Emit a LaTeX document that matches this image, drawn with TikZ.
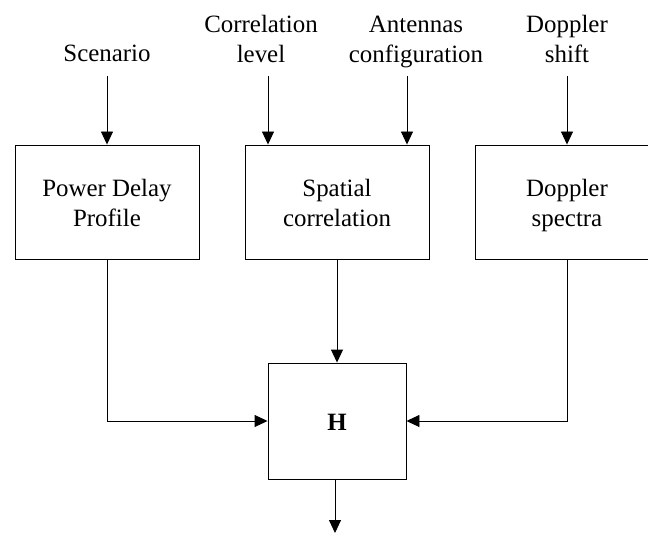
\documentclass[tikz,border=0pt]{standalone}
\usepackage{fontspec}
\setmainfont{Liberation Serif}
\usetikzlibrary{arrows.meta}
\newcommand{\ls}{\rule[-5.2bp]{0pt}{29bp}}
\begin{document}
\begin{tikzpicture}[x=1bp,y=1bp,
  blk/.style={draw, line width=0.9bp, minimum width=184bp, minimum height=114bp, inner sep=0pt, align=center, font=\fontsize{25}{29}\selectfont},
  lbl/.style={inner sep=0pt, align=center, font=\fontsize{25}{29}\selectfont},
  arr/.style={line width=0.9bp, -{Triangle[length=13bp,width=12bp]}},
  ln/.style={line width=0.9bp}]
\useasboundingbox (0,0) rectangle (648,-535);
\clip (0,0) rectangle (648,-535);
% input labels
\node[lbl] (scen) at (107,-52) {\ls Scenario};
\node[lbl] (corr) at (261,-38) {\ls Correlation\\\ls level};
\node[lbl] (ant) at (416,-38) {\ls Antennas\\\ls configuration};
\node[lbl] (dsh) at (567,-38) {\ls Doppler\\\ls shift};
% arrow starts
\coordinate (c0) at (107,-76);
\coordinate (c1) at (268,-76);
\coordinate (c2) at (407,-76);
\coordinate (c3) at (567,-76);
% blocks
\node[blk] (pdp) at (107,-202) {\ls Power Delay\\\ls Profile};
\node[blk] (sc) at (337,-202) {\ls Spatial\\\ls correlation};
\node[blk] (dop) at (567,-202) {\ls Doppler\\\ls spectra};
\node[blk, minimum width=138bp, minimum height=116bp, font=\fontsize{25}{29}\selectfont\bfseries] (H) at (337,-421) {\ls H};
\coordinate (out) at (335,-533);
% connectors
\draw[arr] (c0) -- (pdp.north);
\draw[arr] (c1) -- (c1 |- sc.north);
\draw[arr] (c2) -- (c2 |- sc.north);
\draw[arr] (c3) -- (dop.north);
\draw[arr] (sc.south) -- (H.north);
\draw[arr] (pdp.south) |- (H.west);
\draw[arr] (dop.south) |- (H.east);
\draw[arr] (out |- H.south) -- (out);
\end{tikzpicture}
\end{document}
